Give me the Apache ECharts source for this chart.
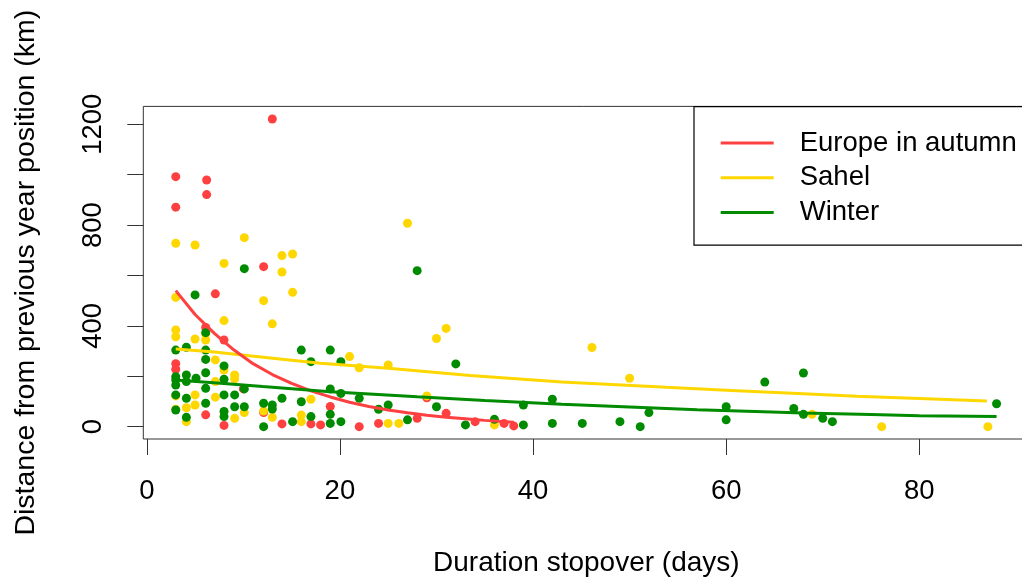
<!DOCTYPE html>
<html>
<head>
<meta charset="utf-8">
<script src="https://cdn.jsdelivr.net/npm/echarts@6/dist/echarts.min.js"></script>
<style>
html,body{margin:0;padding:0;background:#fff;}
#chart{width:1022px;height:580px;}
</style>
</head>
<body>
<div id="chart"></div>
<script>
// ---- Data ----
const seriesNames = ['Europe in autumn', 'Sahel', 'Winter'];
const xTicks = [0, 20, 40, 60, 80];
const yTicks = [0, 200, 400, 600, 800, 1000, 1200];
const yLabels = [0, 400, 800, 1200];

// [duration (days), distance (km)]
const europePts = [[3,992],[3,871],[3,250],[3,228],[6.2,979],[6.2,921],[6.1,394],[6.1,47],[7.1,527],[8,344],[8,5],[10,150],[12.1,635],[12.1,56],[13,1221],[14,11],[17,11],[18,7],[19,80],[22,0],[24,13],[28,33],[29,115],[31,53],[34,20],[37,13],[38,3]];
const sahelPts = [[3,728],[3,513],[3,384],[3,357],[3,122],[3,69],[4.1,75],[4.1,20],[5,721],[5,348],[5,126],[5,86],[6.1,368],[6.1,344],[7.1,265],[7.1,179],[7.1,117],[8,648],[8,421],[8,225],[9.1,205],[9.1,190],[9.1,33],[10.1,750],[10.1,56],[12.1,500],[12.1,62],[13,408],[13,37],[14,679],[14,614],[15.1,685],[15.1,533],[16,46],[16,20],[17,109],[21,278],[22,234],[25,245],[25,13],[26.1,13],[27,807],[29,122],[30,350],[31,390],[36,7],[46.1,314],[50,192],[68.9,49],[76.1,0],[87.1,0]];
const winterPts = [[3,304],[3,198],[3,185],[3,165],[3,126],[3,66],[4.1,315],[4.1,205],[4.1,179],[4.1,113],[4.1,37],[5,523],[5.1,192],[6.1,373],[6.1,304],[6.1,267],[6.1,214],[6.1,152],[6.1,93],[8,241],[8,188],[8,126],[8,60],[8,40],[9.1,126],[9.1,79],[10.1,627],[10.1,150],[10.1,79],[12.1,93],[12.1,0],[13,86],[13,70],[14,113],[15.1,20],[16,304],[16,99],[17,258],[17,40],[19,304],[19,150],[19,49],[19,13],[20.1,258],[20.1,132],[20.1,20],[22,113],[24,69],[25,86],[27,27],[28,619],[30,79],[32,249],[33,7],[36,29],[39,86],[39,7],[42,109],[42,13],[45.1,13],[49,20],[51.1,0],[52,56],[60,79],[60,27],[64,177],[67,72],[68,213],[68,49],[70,33],[71,20],[88,91]];

// fitted curves
const europeFitX = [3,5,7,9,11,13,15,17,19,21,23,25,27,29,31,33,35,38];
const europeFitY = [540,445,370,305,250,207,172,142,118,97,80,66,55,45,37,31,25,18];
const sahelFitX = [3,7,14,18,25,33.5,43,53.8,60,68,73.5,80,87];
const sahelFitY = [308,296,268,252,232,203,177,156,145,131,121,112,102];
const winterFitX = [3,8,12,19,28,35,43,50,57,63,68,75,80,88];
const winterFitY = [185,171,159,139,119,104,89,78,67,60,54,48,43,40];

const colors = ['#FF4040', '#FFD700', '#008B00'];
const FONT = 'Liberation Sans, Arial, sans-serif';
const FS = 27.5;

function zip(xs, ys) { return xs.map((x, i) => [x, ys[i]]); }

const chart = echarts.init(document.getElementById('chart'), null, {renderer: 'canvas'});

function scatter(name, pts, color) {
  return {
    type: 'scatter', name: name + ' pts', data: pts,
    symbol: 'circle', symbolSize: 9,
    itemStyle: {color: color, opacity: 1},
    silent: true, z: 2
  };
}
function fit(name, xs, ys, color) {
  return {
    type: 'line', name: name, data: zip(xs, ys),
    symbol: 'none', smooth: false,
    lineStyle: {color: color, width: 3},
    itemStyle: {color: color},
    silent: true, z: 3
  };
}
const plain = v => String(v);

chart.setOption({
  animation: false,
  backgroundColor: '#fff',
  textStyle: {fontFamily: FONT},
  grid: {
    left: 143.3, top: 106.4, width: 886.1, height: 332.6,
    show: true, borderColor: '#333', borderWidth: 1, backgroundColor: 'transparent',
    containLabel: false, outerBoundsMode: 'none'
  },
  legend: {
    data: seriesNames,
    orient: 'vertical',
    left: 694, top: 106.7,
    selectedMode: false,
    icon: 'rect', itemWidth: 53, itemHeight: 3, itemGap: 4.7,
    padding: [21.3, 20, 17.7, 26.7],
    borderColor: '#000', borderWidth: 1.2,
    backgroundColor: '#fff',
    itemStyle: {borderWidth: 0},
    textStyle: {fontFamily: FONT, fontSize: FS, color: '#000', lineHeight: 30, padding: [0, 0, 0, 21]}
  },
  xAxis: {
    type: 'value', min: -0.36, max: 91.4,
    name: 'Duration stopover (days)', nameLocation: 'middle', nameGap: 110,
    nameTextStyle: {fontFamily: FONT, fontSize: 28, color: '#000'},
    axisLine: {show: false, onZero: false},
    axisTick: {show: true, inside: false, length: 16, lineStyle: {color: '#333', width: 1}, customValues: xTicks},
    axisLabel: {show: true, margin: 38, fontFamily: FONT, fontSize: FS, color: '#000', customValues: xTicks, formatter: plain},
    splitLine: {show: false}
  },
  yAxis: {
    type: 'value', min: -48.9, max: 1270.9,
    name: 'Distance from previous year position (km)', nameLocation: 'middle', nameGap: 103,
    nameTextStyle: {fontFamily: FONT, fontSize: 28.5, color: '#000'},
    axisLine: {show: false, onZero: false},
    axisTick: {show: true, inside: false, length: 16, lineStyle: {color: '#333', width: 1}, customValues: yTicks},
    axisLabel: {show: true, rotate: 90, margin: 36, fontFamily: FONT, fontSize: FS, color: '#000', customValues: yLabels, formatter: plain},
    splitLine: {show: false}
  },
  series: [
    scatter(seriesNames[0], europePts, colors[0]),
    scatter(seriesNames[1], sahelPts, colors[1]),
    scatter(seriesNames[2], winterPts, colors[2]),
    fit(seriesNames[1], sahelFitX, sahelFitY, colors[1]),
    fit(seriesNames[0], europeFitX, europeFitY, colors[0]),
    fit(seriesNames[2], winterFitX, winterFitY, colors[2])
  ]
});
</script>
</body>
</html>
